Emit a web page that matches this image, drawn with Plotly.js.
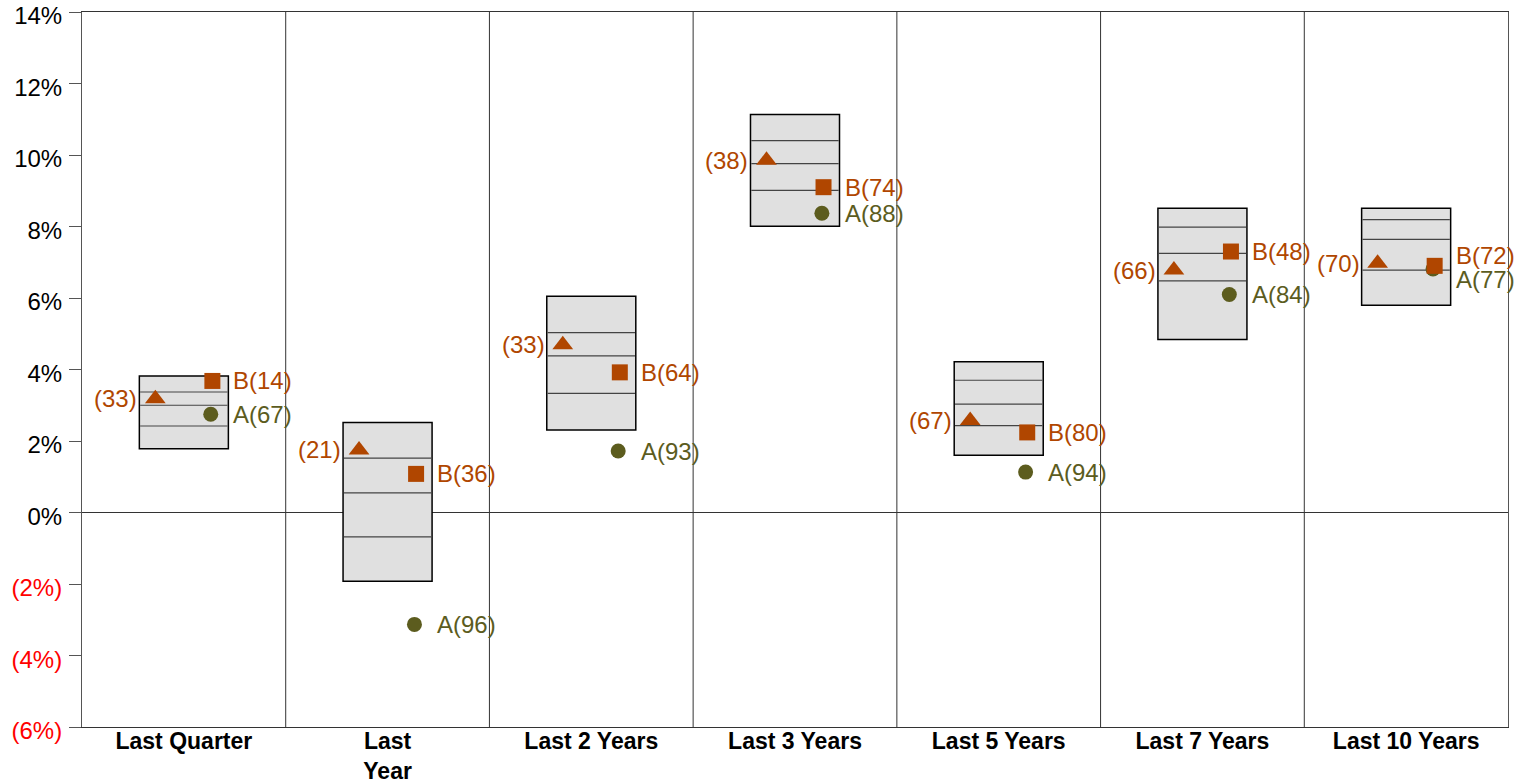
<!DOCTYPE html>
<html><head><meta charset="utf-8">
<script src="https://cdn.plot.ly/plotly-3.0.1.min.js"></script>
<style>html,body{margin:0;padding:0;background:#fff}#chart{width:1527px;height:784px}</style>
</head><body><div id="chart"></div>
<script>
// ---- data ----
const categories = ['Last Quarter', 'Last<br>Year', 'Last 2 Years', 'Last 3 Years', 'Last 5 Years', 'Last 7 Years', 'Last 10 Years'];
const boxTop    = [3.82, 2.52, 6.05, 11.13, 4.22, 8.51, 8.51];
const pctUpper  = [3.37, 1.52, 5.03, 10.40, 3.70, 7.98, 8.19];
const pctMedian = [3.00, 0.55, 4.38, 9.76, 3.03, 7.25, 7.64];
const pctLower  = [2.42, -0.68, 3.33, 9.01, 2.43, 6.48, 6.78];
const boxBottom = [1.78, -1.92, 2.31, 8.01, 1.60, 4.84, 5.80];
const triValues = [3.18, 1.75, 4.69, 9.85, 2.57, 6.78, 6.97];
const triRanks  = [33, 21, 33, 38, 67, 66, 70];
const bValues   = [3.68, 1.08, 3.92, 9.10, 2.24, 7.30, 6.90];
const bRanks    = [14, 36, 64, 74, 80, 48, 72];
const aValues   = [2.75, -3.13, 1.72, 8.37, 1.13, 6.10, 6.81];
const aRanks    = [67, 96, 93, 88, 94, 84, 77];
const yTickValues = [-6, -4, -2, 0, 2, 4, 6, 8, 10, 12, 14];

// ---- styling ----
const ORANGE = '#B04600', OLIVE = '#5C5C1E';
const FONT = 'Liberation Sans, Arial, sans-serif';
const BOX_W = 0.437, HW = BOX_W / 2, MOFF = 0.14;
const Y_RANGE = [-6, 14];
const MARGIN = {l: 82, r: 19, t: 12, b: 57};
const H = 784, W = 1527;
const LABEL_SIZE = 24;

const xs = categories.map((_, i) => i);

const traces = [];
traces.push({
  type: 'bar', x: xs, base: boxBottom, y: boxTop.map((t, i) => t - boxBottom[i]),
  width: BOX_W, marker: {color: '#E0E0E0', line: {color: '#000', width: 1.5}},
  hoverinfo: 'skip'
});
[pctUpper, pctMedian, pctLower].forEach(arr => {
  const lx = [], ly = [];
  arr.forEach((v, i) => { lx.push(i - HW + 0.004, i + HW - 0.004, null); ly.push(v, v, null); });
  traces.push({type: 'scatter', mode: 'lines', x: lx, y: ly, line: {color: '#444', width: 1.2}, hoverinfo: 'skip'});
});
traces.push({type: 'scatter', mode: 'markers', x: xs.map(i => i - MOFF), y: triValues,
  marker: {symbol: 'triangle-up', size: 18, color: ORANGE}});
traces.push({type: 'scatter', mode: 'markers', x: xs.map(i => i + MOFF - 0.008), y: aValues,
  marker: {symbol: 'circle', size: 15, color: OLIVE}});
traces.push({type: 'scatter', mode: 'markers', x: xs.map(i => i + MOFF), y: bValues,
  marker: {symbol: 'square', size: 16, color: ORANGE}});

// ---- labels with simple collision avoidance ----
const pxPerUnit = (H - MARGIN.t - MARGIN.b) / (Y_RANGE[1] - Y_RANGE[0]);
const MIN_GAP = 24;
const annotations = [];
xs.forEach(i => {
  annotations.push({x: i - MOFF, y: triValues[i], text: '(' + triRanks[i] + ')', xanchor: 'right', yanchor: 'middle',
    xshift: -16, showarrow: false, font: {family: FONT, size: LABEL_SIZE, color: ORANGE}});
  let bShift = 0, aShift = 0;
  const d = (bValues[i] - aValues[i]) * pxPerUnit;
  if (Math.abs(d) < MIN_GAP) {
    const s = (MIN_GAP - Math.abs(d)) / 2 * (d >= 0 ? 1 : -1);
    bShift = s; aShift = -s;
  }
  annotations.push({x: i + MOFF, y: bValues[i], text: 'B(' + bRanks[i] + ')', xanchor: 'left', yanchor: 'middle',
    xshift: 19, yshift: bShift, showarrow: false, font: {family: FONT, size: LABEL_SIZE, color: ORANGE}});
  annotations.push({x: i + MOFF, y: aValues[i], text: 'A(' + aRanks[i] + ')', xanchor: 'left', yanchor: 'middle',
    xshift: 19, yshift: aShift, showarrow: false, font: {family: FONT, size: LABEL_SIZE, color: OLIVE}});
});

const shapes = xs.slice(0, -1).map(i => ({
  type: 'line', xref: 'x', yref: 'paper', x0: i + 0.5, x1: i + 0.5, y0: 0, y1: 1,
  line: {color: '#333', width: 1}, layer: 'below'
}));

const yTickText = yTickValues.map(v => v < 0
  ? '<span style="color:#FF0000">(' + Math.abs(v) + '%)</span>'
  : v + '%');

const layout = {
  width: W, height: H, margin: MARGIN, showlegend: false,
  paper_bgcolor: '#fff', plot_bgcolor: '#fff',
  font: {family: FONT, color: '#000'},
  xaxis: {range: [-0.5, categories.length - 0.5], tickvals: xs, ticktext: categories, ticks: '',
    showgrid: false, zeroline: false, showline: true, mirror: true, linecolor: '#333', linewidth: 1,
    ticklabelstandoff: -7,
    tickfont: {family: FONT, size: 23, color: '#000', weight: 'bold'}, automargin: false, fixedrange: true},
  yaxis: {range: Y_RANGE, tickvals: yTickValues, ticktext: yTickText, ticks: 'outside', ticklen: 12,
    tickcolor: '#555', showgrid: false, zeroline: true, zerolinecolor: '#333', zerolinewidth: 1,
    showline: true, mirror: true, linecolor: '#555', linewidth: 1,
    ticklabeloverflow: 'allow', ticklabelstandoff: 2, ticklabelshift: 4,
    tickfont: {family: FONT, size: 24, color: '#000'}, automargin: false, fixedrange: true},
  annotations: annotations, shapes: shapes, bargap: 0
};

Plotly.newPlot('chart', traces, layout, {displayModeBar: false, staticPlot: true});
</script>
</body></html>
